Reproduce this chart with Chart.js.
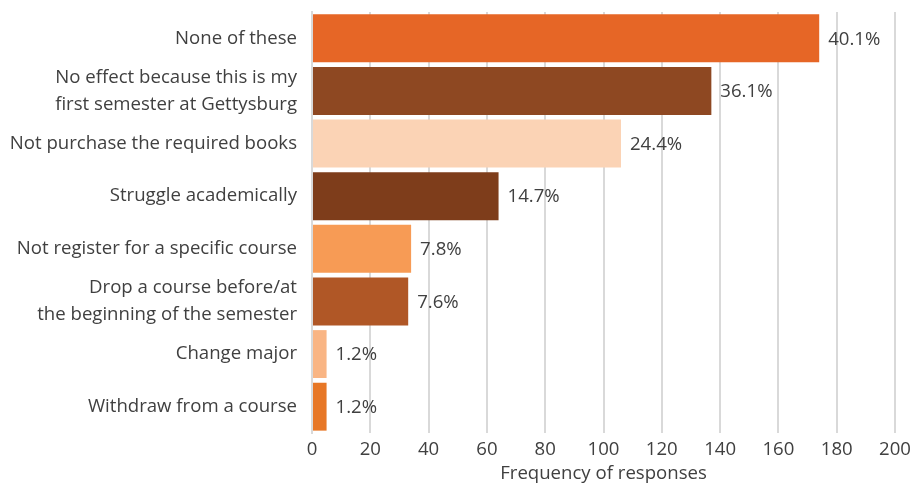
<!DOCTYPE html>
<html>
<head>
<meta charset="utf-8">
<script src="https://cdn.jsdelivr.net/npm/chart.js@4"></script>
<style>
  html, body { margin: 0; padding: 0; background: #fff; }
  #wrap { width: 919px; height: 488px; }
</style>
</head>
<body>
<div id="wrap"><canvas id="myChart" width="919" height="488"></canvas></div>
<script>
const categories = [
  "None of these",
  ["No effect because this is my", "first semester at Gettysburg"],
  "Not purchase the required books",
  "Struggle academically",
  "Not register for a specific course",
  ["Drop a course before/at", "the beginning of the semester"],
  "Change major",
  "Withdraw from a course"
];
const counts = [174, 137, 106, 64, 34, 33, 5, 5];
const percentLabels = ["40.1%", "36.1%", "24.4%", "14.7%", "7.8%", "7.6%", "1.2%", "1.2%"];
const barColors = ["#E66626", "#8E4822", "#FBD3B5", "#7E3D1B", "#F79B55", "#B05726", "#F9B584", "#E77726"];
const xTicks = [0, 20, 40, 60, 80, 100, 120, 140, 160, 180, 200];

const textColor = "#404040";
const fontFamily = "'Open Sans', sans-serif";
const fontSize = 18.6;

// percentage text just past the end of each bar
const barLabels = {
  id: "barLabels",
  afterDatasetsDraw(chart) {
    const ctx = chart.ctx;
    const meta = chart.getDatasetMeta(0);
    ctx.save();
    ctx.fillStyle = textColor;
    ctx.font = fontSize + "px " + fontFamily;
    ctx.textAlign = "left";
    ctx.textBaseline = "middle";
    meta.data.forEach((bar, i) => {
      ctx.fillText(percentLabels[i], bar.x + 9, bar.y + 1);
    });
    ctx.restore();
  }
};

const ctx = document.getElementById("myChart").getContext("2d");
new Chart(ctx, {
  type: "bar",
  data: {
    labels: categories,
    datasets: [{
      data: counts,
      backgroundColor: barColors,
      borderWidth: 0,
      categoryPercentage: 1,
      barPercentage: 0.91
    }]
  },
  plugins: [barLabels],
  options: {
    indexAxis: "y",
    responsive: false,
    animation: false,
    layout: { padding: { top: 12, right: 24, bottom: 0, left: 0 } },
    plugins: {
      legend: { display: false },
      tooltip: { enabled: false }
    },
    scales: {
      x: {
        min: 0,
        max: 200,
        afterBuildTicks(axis) {
          axis.ticks = xTicks.map(v => ({ value: v }));
        },
        afterFit(axis) { axis.height = 55; },
        grid: { color: "#d9d9d9", lineWidth: 2, drawTicks: false },
        border: { display: false },
        ticks: {
          color: textColor,
          font: { size: fontSize, family: fontFamily },
          padding: 6,
          maxRotation: 0
        },
        title: {
          display: true,
          text: "Frequency of responses",
          color: textColor,
          font: { size: fontSize, family: fontFamily },
          padding: { top: 0, bottom: 3 }
        }
      },
      y: {
        afterFit(axis) {
          axis.width = 312;
          axis.paddingTop = 0;
          axis.paddingBottom = 0;
        },
        grid: { display: false, drawTicks: false },
        border: { display: true, color: "#d9d9d9", width: 2 },
        ticks: {
          color: textColor,
          font: { size: fontSize, family: fontFamily, lineHeight: 1.45 },
          padding: 15,
          autoSkip: false
        }
      }
    }
  }
});
</script>
</body>
</html>
